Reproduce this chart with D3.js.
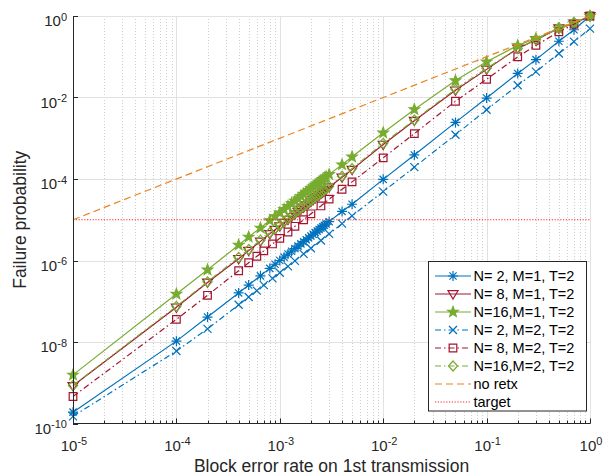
<!DOCTYPE html>
<html>
<head>
<meta charset="utf-8">
<script src="https://cdn.jsdelivr.net/npm/d3@7"></script>
<style>
    body { margin: 0; background: #fff; }
    svg { font-family: "Liberation Sans", Arial, Helvetica, sans-serif; }
</style>
</head>
<body>
<div class="chart-container"></div>
<script>
// --- Data ---

// BLER points of the dense curves (fine sweep round the target)
var xDense = [1e-5, 1e-4, 2e-4, 4e-4, 5e-4, 6.5e-4, 8e-4, 9e-4, 1e-3, 1.1e-3, 1.2e-3, 1.3e-3,
    1.4e-3, 1.5e-3, 1.6e-3, 1.7e-3, 1.8e-3, 1.9e-3, 2e-3, 2.1e-3, 2.2e-3, 2.3e-3, 2.4e-3,
    2.5e-3, 2.6e-3, 2.7e-3, 2.8e-3, 3e-3, 4e-3, 5e-3, 1e-2, 2e-2, 5e-2, 0.1, 0.2, 0.3, 0.5, 0.7, 1];

// BLER points of the coarser curves
var xSparse = [1e-5, 1e-4, 2e-4, 4e-4, 5e-4, 6e-4, 7e-4, 8.5e-4, 1e-3, 1.2e-3, 1.4e-3, 1.7e-3,
    2e-3, 2.5e-3, 3e-3, 4e-3, 5e-3, 1e-2, 2e-2, 5e-2, 0.1, 0.2, 0.3, 0.5, 0.7, 1];

// N= 2, M=1, T=2
var n2m1 = [1.9e-10, 1.05e-8, 4.1e-8, 1.6e-7, 2.5e-7, 4.2e-7, 6.4e-7, 8.1e-7, 1.0e-6, 1.21e-6,
    1.44e-6, 1.69e-6, 1.96e-6, 2.25e-6, 2.56e-6, 2.89e-6, 3.24e-6, 3.61e-6, 4.0e-6, 4.41e-6,
    4.84e-6, 5.29e-6, 5.76e-6, 6.25e-6, 6.76e-6, 7.29e-6, 7.84e-6, 9.0e-6, 1.6e-5, 2.4e-5,
    9.8e-5, 3.9e-4, 2.45e-3, 9.7e-3, 0.039, 0.085, 0.24, 0.46, 1];

// N= 8, M=1, T=2
var n8m1 = [8.4e-10, 7.1e-8, 2.9e-7, 1.1e-6, 1.75e-6, 2.95e-6, 4.5e-6, 5.7e-6, 7.0e-6, 8.5e-6,
    1.01e-5, 1.18e-5, 1.37e-5, 1.57e-5, 1.79e-5, 2.02e-5, 2.27e-5, 2.53e-5, 2.8e-5, 3.08e-5,
    3.38e-5, 3.7e-5, 4.0e-5, 4.37e-5, 4.7e-5, 5.1e-5, 5.5e-5, 6.3e-5, 1.1e-4, 1.7e-4,
    7.0e-4, 2.7e-3, 0.015, 0.049, 0.16, 0.26, 0.50, 0.66, 1];

// N=16, M=1, T=2
var n16m1 = [1.56e-9, 1.5e-7, 5.9e-7, 2.4e-6, 3.8e-6, 6.3e-6, 9.6e-6, 1.21e-5, 1.49e-5, 1.8e-5,
    2.14e-5, 2.5e-5, 2.9e-5, 3.3e-5, 3.8e-5, 4.3e-5, 4.8e-5, 5.3e-5, 5.9e-5, 6.5e-5,
    7.1e-5, 7.7e-5, 8.4e-5, 9.1e-5, 9.8e-5, 1.06e-4, 1.14e-4, 1.3e-4, 2.25e-4, 3.5e-4,
    1.36e-3, 5.1e-3, 0.026, 0.075, 0.19, 0.28, 0.49, 0.66, 1];

// N= 2, M=2, T=2
var n2m2 = [1.5e-10, 6.0e-9, 2.1e-8, 8.2e-8, 1.27e-7, 1.82e-7, 2.48e-7, 3.65e-7, 5.0e-7, 7.2e-7,
    9.8e-7, 1.45e-6, 2.0e-6, 3.1e-6, 4.5e-6, 8.0e-6, 1.25e-5, 4.9e-5, 1.95e-4, 1.22e-3,
    5.0e-3, 0.020, 0.043, 0.12, 0.235, 0.49];

// N= 8, M=2, T=2
var n8m2 = [4.6e-10, 3.6e-8, 1.4e-7, 5.6e-7, 8.8e-7, 1.27e-6, 1.72e-6, 2.55e-6, 3.5e-6, 5.0e-6,
    6.9e-6, 1.0e-5, 1.4e-5, 2.18e-5, 3.2e-5, 5.6e-5, 8.5e-5, 3.3e-4, 1.3e-3, 8.1e-3,
    0.028, 0.10, 0.19, 0.41, 0.63, 1];

// N=16, M=2, T=2
var n16m2 = [8.6e-10, 7.5e-8, 3.0e-7, 1.19e-6, 1.86e-6, 3.15e-6, 4.8e-6, 6.05e-6, 7.4e-6, 9.0e-6,
    1.07e-5, 1.26e-5, 1.45e-5, 1.67e-5, 1.9e-5, 2.14e-5, 2.4e-5, 2.67e-5, 2.95e-5, 3.25e-5,
    3.57e-5, 3.9e-5, 4.25e-5, 4.6e-5, 4.98e-5, 5.37e-5, 5.8e-5, 6.6e-5, 1.17e-4, 1.8e-4,
    7.5e-4, 2.8e-3, 0.016, 0.052, 0.16, 0.26, 0.52, 0.70, 1];

// reference lines
var noRetxX = [1e-5, 1];
var noRetxY = [1e-5, 1];
var targetX = [1e-5, 1];
var targetY = [1e-5, 1e-5];

var legendNames = ["N= 2, M=1, T=2", "N= 8, M=1, T=2", "N=16,M=1, T=2",
    "N= 2, M=2, T=2", "N= 8, M=2, T=2", "N=16,M=2, T=2", "no retx", "target"];

// tick exponents (labels are 10^e)
var xTickExps = [-5, -4, -3, -2, -1, 0];
var yTickExps = [-10, -8, -6, -4, -2, 0];

// --- Layout ---
const w = 603;
const h = 475;
const plotLeft = 73;
const plotRight = 590;
const plotTop = 16;
const plotBottom = 423.5;

const blue = "#0072BD";
const red = "#A2142F";
const green = "#77AC30";
const orange = "#EA8420";
const axisColor = "#262626";
const lineW = 1.2;

// series table for drawing
var series = [
    { name: legendNames[0], x: xDense, y: n2m1, color: blue, dash: null, marker: "asterisk" },
    { name: legendNames[1], x: xDense, y: n8m1, color: red, dash: null, marker: "triangle" },
    { name: legendNames[2], x: xDense, y: n16m1, color: green, dash: null, marker: "star" },
    { name: legendNames[3], x: xSparse, y: n2m2, color: blue, dash: "6,3,1.5,3", marker: "cross" },
    { name: legendNames[4], x: xSparse, y: n8m2, color: red, dash: "6,3,1.5,3", marker: "square" },
    { name: legendNames[5], x: xDense, y: n16m2, color: green, dash: "6,3,1.5,3", marker: "diamond" },
    { name: legendNames[6], x: noRetxX, y: noRetxY, color: orange, dash: "7,4", marker: null },
    { name: legendNames[7], x: targetX, y: targetY, color: "#FF2020", dash: "1.2,1.6", marker: null }
];

// --- Scales ---
var xScale = d3.scaleLog()
    .domain([1e-5, 1])
    .range([plotLeft, plotRight]);

var yScale = d3.scaleLog()
    .domain([1e-10, 1])
    .range([plotBottom, plotTop]);

var svg = d3.select(".chart-container")
    .append("svg")
    .attr("width", w)
    .attr("height", h);

// --- Grid ---
var xMinor = [];
xTickExps.slice(0, -1).forEach(function (e) {
    for (var m = 2; m <= 9; m++) xMinor.push(m * Math.pow(10, e));
});

svg.append("g")
    .selectAll("line")
    .data(xMinor)
    .enter()
    .append("line")
    .attr("x1", function (d) { return Math.round(xScale(d)) + 0.5; })
    .attr("x2", function (d) { return Math.round(xScale(d)) + 0.5; })
    .attr("y1", plotTop)
    .attr("y2", plotBottom)
    .attr("stroke", "#cfcfcf")
    .attr("stroke-dasharray", "1,2");

svg.append("g")
    .selectAll("line")
    .data(xTickExps.slice(1))
    .enter()
    .append("line")
    .attr("x1", function (d) { return Math.round(xScale(Math.pow(10, d))) + 0.5; })
    .attr("x2", function (d) { return Math.round(xScale(Math.pow(10, d))) + 0.5; })
    .attr("y1", plotTop)
    .attr("y2", plotBottom)
    .attr("stroke", "#e1e1e1");

svg.append("g")
    .selectAll("line")
    .data(yTickExps.slice(1))
    .enter()
    .append("line")
    .attr("x1", plotLeft)
    .attr("x2", plotRight)
    .attr("y1", function (d) { return Math.round(yScale(Math.pow(10, d))) + 0.5; })
    .attr("y2", function (d) { return Math.round(yScale(Math.pow(10, d))) + 0.5; })
    .attr("stroke", "#e1e1e1");

// --- Markers ---
function markerPath(type) {
    var p = "";
    if (type === "asterisk") {
        var r = 5, d = 3.6;
        p = "M" + (-r) + ",0L" + r + ",0M0," + (-r) + "L0," + r +
            "M" + (-d) + "," + (-d) + "L" + d + "," + d + "M" + (-d) + "," + d + "L" + d + "," + (-d);
    } else if (type === "cross") {
        var c = 4;
        p = "M" + (-c) + "," + (-c) + "L" + c + "," + c + "M" + (-c) + "," + c + "L" + c + "," + (-c);
    } else if (type === "triangle") {
        p = "M-5,-3.3L5,-3.3L0,5Z";
    } else if (type === "square") {
        p = "M-3.8,-3.8L3.8,-3.8L3.8,3.8L-3.8,3.8Z";
    } else if (type === "diamond") {
        p = "M0,-5L4.6,0L0,5L-4.6,0Z";
    } else if (type === "star") {
        var pts = [];
        for (var i = 0; i < 10; i++) {
            var rad = (i % 2 === 0) ? 5.5 : 2.3;
            var a = -Math.PI / 2 + i * Math.PI / 5;
            pts.push((rad * Math.cos(a)).toFixed(2) + "," + (rad * Math.sin(a)).toFixed(2));
        }
        p = "M" + pts.join("L") + "Z";
    }
    return p;
}

function drawMarkers(g, pts, s) {
    g.selectAll("path.mk")
        .data(pts)
        .enter()
        .append("path")
        .attr("class", "mk")
        .attr("transform", function (d) {
            return "translate(" + d[0] + "," + d[1] + ")";
        })
        .attr("d", markerPath(s.marker))
        .attr("fill", s.marker === "star" ? s.color : "none")
        .attr("stroke", s.color)
        .attr("stroke-width", lineW);
}

// --- Series ---
var line = d3.line()
    .x(function (d) { return xScale(d[0]); })
    .y(function (d) { return yScale(d[1]); });

series.forEach(function (s) {
    var pts = s.x.map(function (x, i) { return [x, s.y[i]]; });
    var g = svg.append("g");
    g.append("path")
        .datum(pts)
        .attr("d", line)
        .attr("fill", "none")
        .attr("stroke", s.color)
        .attr("stroke-width", lineW)
        .attr("stroke-dasharray", s.dash);
    if (s.marker) {
        drawMarkers(g, pts.map(function (d) { return [xScale(d[0]), yScale(d[1])]; }), s);
    }
});

// --- Axes ---
svg.append("line")
    .attr("x1", plotLeft + 0.5).attr("x2", plotLeft + 0.5)
    .attr("y1", plotTop).attr("y2", plotBottom + 0.5)
    .attr("stroke", axisColor);

svg.append("line")
    .attr("x1", plotLeft).attr("x2", plotRight + 0.5)
    .attr("y1", plotBottom).attr("y2", plotBottom)
    .attr("stroke", axisColor);

// x ticks (inward)
svg.append("g")
    .selectAll("line")
    .data(xMinor)
    .enter()
    .append("line")
    .attr("x1", function (d) { return Math.round(xScale(d)) + 0.5; })
    .attr("x2", function (d) { return Math.round(xScale(d)) + 0.5; })
    .attr("y1", plotBottom)
    .attr("y2", plotBottom - 3)
    .attr("stroke", axisColor);

svg.append("g")
    .selectAll("line")
    .data(xTickExps)
    .enter()
    .append("line")
    .attr("x1", function (d) { return Math.round(xScale(Math.pow(10, d))) + 0.5; })
    .attr("x2", function (d) { return Math.round(xScale(Math.pow(10, d))) + 0.5; })
    .attr("y1", plotBottom)
    .attr("y2", plotBottom - 5)
    .attr("stroke", axisColor);

svg.append("g")
    .selectAll("line")
    .data(yTickExps)
    .enter()
    .append("line")
    .attr("x1", plotLeft)
    .attr("x2", plotLeft + 5)
    .attr("y1", function (d) { return Math.round(yScale(Math.pow(10, d))) + 0.5; })
    .attr("y2", function (d) { return Math.round(yScale(Math.pow(10, d))) + 0.5; })
    .attr("stroke", axisColor);

// tick labels as 10 with a raised exponent
function powerLabel(sel) {
    sel.append("tspan").text("10");
    sel.append("tspan")
        .attr("dy", "-0.5em")
        .attr("font-size", "11px")
        .text(function (d) { return d < 0 ? "-" + (-d) : d; });
}

svg.append("g")
    .selectAll("text")
    .data(xTickExps)
    .enter()
    .append("text")
    .attr("x", function (d) { return xScale(Math.pow(10, d)) + 1; })
    .attr("y", plotBottom + 27)
    .attr("text-anchor", "middle")
    .attr("font-size", "15px")
    .attr("fill", axisColor)
    .call(powerLabel);

svg.append("g")
    .selectAll("text")
    .data(yTickExps)
    .enter()
    .append("text")
    .attr("x", plotLeft - 6)
    .attr("y", function (d) { return yScale(Math.pow(10, d)) + 10; })
    .attr("text-anchor", "end")
    .attr("font-size", "15px")
    .attr("fill", axisColor)
    .call(powerLabel);

// axis titles
svg.append("text")
    .attr("x", (plotLeft + plotRight) / 2)
    .attr("y", 472)
    .attr("text-anchor", "middle")
    .attr("font-size", "17.5px")
    .attr("fill", axisColor)
    .text("Block error rate on 1st transmission");

svg.append("text")
    .attr("transform", "translate(26," + ((plotTop + plotBottom) / 2) + ") rotate(-90)")
    .attr("text-anchor", "middle")
    .attr("font-size", "17.5px")
    .attr("fill", axisColor)
    .text("Failure probability");

// --- Legend ---
var legend = svg.append("g");

legend.append("rect")
    .attr("x", 428.5)
    .attr("y", 261.5)
    .attr("width", 158)
    .attr("height", 149.5)
    .attr("fill", "#fff")
    .attr("stroke", axisColor);

var rows = legend.selectAll("g.row")
    .data(series)
    .enter()
    .append("g")
    .attr("class", "row")
    .attr("transform", function (d, i) {
        return "translate(0," + (276 + i * 18) + ")";
    });

rows.append("line")
    .attr("x1", 435)
    .attr("x2", 471)
    .attr("y1", 0)
    .attr("y2", 0)
    .attr("stroke", function (d) { return d.color; })
    .attr("stroke-width", lineW)
    .attr("stroke-dasharray", function (d) { return d.dash; });

rows.each(function (d) {
    if (d.marker) drawMarkers(d3.select(this), [[453, 0]], d);
});

rows.append("text")
    .attr("x", 473.5)
    .attr("y", 5)
    .attr("font-size", "14.5px")
    .attr("fill", "#000")
    .text(function (d) { return d.name; });
</script>
</body>
</html>
